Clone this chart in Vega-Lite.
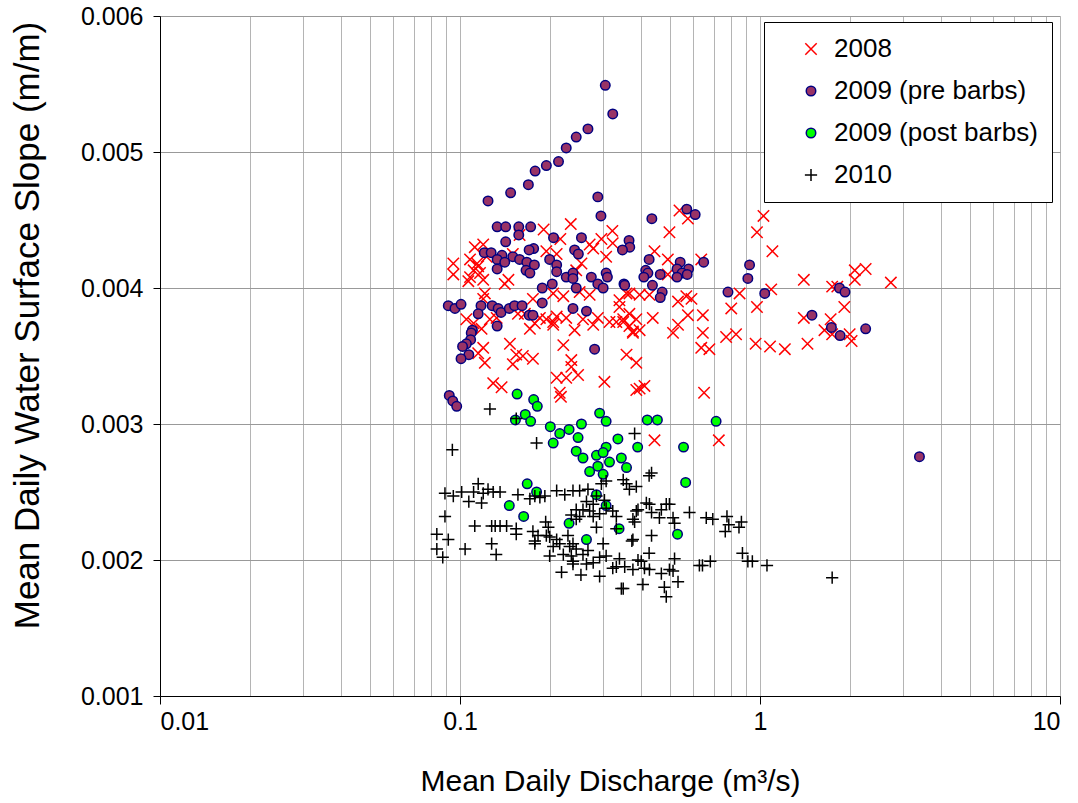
{
"$schema":"https://vega.github.io/schema/vega-lite/v6.json",
"width":900,"height":680,
"autosize":{"type":"none"},
"padding":{"left":160,"top":16,"right":18,"bottom":107},
"background":"white",
"config":{"view":{"stroke":null},"font":"Liberation Sans","axis":{"labelFont":"Liberation Sans","titleFont":"Liberation Sans","labelColor":"black","titleColor":"black","titleFontWeight":"normal"},"legend":{"labelFont":"Liberation Sans"}},
"data":{"values":[
{"series":"2008","q":0.190,"s":0.00443},{"series":"2008","q":0.234,"s":0.00447},{"series":"2008","q":0.216,"s":0.00436},{"series":"2008","q":0.158,"s":0.00439},{"series":"2008","q":0.322,"s":0.00442},{"series":"2008","q":0.296,"s":0.00436},{"series":"2008","q":0.2705,"s":0.00432},{"series":"2008","q":0.307,"s":0.00423},{"series":"2008","q":0.278,"s":0.00429},{"series":"2008","q":0.323,"s":0.00433},{"series":"2008","q":0.112,"s":0.0043},{"series":"2008","q":0.1195,"s":0.00432},{"series":"2008","q":0.108,"s":0.00421},{"series":"2008","q":0.114,"s":0.00418},{"series":"2008","q":0.095,"s":0.00418},{"series":"2008","q":0.150,"s":0.00425},{"series":"2008","q":0.194,"s":0.00427},{"series":"2008","q":0.210,"s":0.00425},{"series":"2008","q":0.254,"s":0.00418},{"series":"2008","q":0.095,"s":0.0041},{"series":"2008","q":0.115,"s":0.00416},{"series":"2008","q":0.111,"s":0.00413},{"series":"2008","q":0.1166,"s":0.00411},{"series":"2008","q":0.108,"s":0.00408},{"series":"2008","q":0.1195,"s":0.00406},{"series":"2008","q":0.1066,"s":0.00405},{"series":"2008","q":0.1227,"s":0.00423},{"series":"2008","q":0.145,"s":0.00406},{"series":"2008","q":0.141,"s":0.00403},{"series":"2008","q":0.121,"s":0.00396},{"series":"2008","q":0.1195,"s":0.00392},{"series":"2008","q":0.105,"s":0.00377},{"series":"2008","q":0.111,"s":0.00374},{"series":"2008","q":0.118,"s":0.0037},{"series":"2008","q":0.1258,"s":0.00377},{"series":"2008","q":0.1325,"s":0.00378},{"series":"2008","q":0.156,"s":0.00381},{"series":"2008","q":0.1645,"s":0.00381},{"series":"2008","q":0.171,"s":0.0037},{"series":"2008","q":0.1776,"s":0.00374},{"series":"2008","q":0.1846,"s":0.00378},{"series":"2008","q":0.194,"s":0.00377},{"series":"2008","q":0.2045,"s":0.00375},{"series":"2008","q":0.2045,"s":0.00373},{"series":"2008","q":0.21,"s":0.00379},{"series":"2008","q":0.226,"s":0.00378},{"series":"2008","q":0.241,"s":0.00369},{"series":"2008","q":0.257,"s":0.00377},{"series":"2008","q":0.278,"s":0.00373},{"series":"2008","q":0.288,"s":0.00378},{"series":"2008","q":0.315,"s":0.00375},{"series":"2008","q":0.332,"s":0.00375},{"series":"2008","q":0.35,"s":0.00375},{"series":"2008","q":0.367,"s":0.00372},{"series":"2008","q":0.377,"s":0.00368},{"series":"2008","q":0.34,"s":0.00391},{"series":"2008","q":0.367,"s":0.00396},{"series":"2008","q":0.2045,"s":0.00396},{"series":"2008","q":0.221,"s":0.00394},{"series":"2008","q":0.2505,"s":0.00397},{"series":"2008","q":0.2705,"s":0.00395},{"series":"2008","q":0.175,"s":0.00392},{"series":"2008","q":0.244,"s":0.00413},{"series":"2008","q":0.1467,"s":0.00359},{"series":"2008","q":0.154,"s":0.00351},{"series":"2008","q":0.15,"s":0.00344},{"series":"2008","q":0.175,"s":0.00348},{"series":"2008","q":0.162,"s":0.0035},{"series":"2008","q":0.1195,"s":0.00356},{"series":"2008","q":0.121,"s":0.00345},{"series":"2008","q":0.115,"s":0.00352},{"series":"2008","q":0.221,"s":0.00358},{"series":"2008","q":0.235,"s":0.00347},{"series":"2008","q":0.235,"s":0.00342},{"series":"2008","q":0.2475,"s":0.00336},{"series":"2008","q":0.226,"s":0.00334},{"series":"2008","q":0.21,"s":0.00334},{"series":"2008","q":0.215,"s":0.00323},{"series":"2008","q":0.217,"s":0.0032},{"series":"2008","q":0.129,"s":0.0033},{"series":"2008","q":0.1376,"s":0.00327},{"series":"2008","q":0.303,"s":0.00331},{"series":"2008","q":0.359,"s":0.00351},{"series":"2008","q":0.387,"s":0.00325},{"series":"2008","q":0.539,"s":0.00457},{"series":"2008","q":0.575,"s":0.00451},{"series":"2008","q":0.499,"s":0.00441},{"series":"2008","q":1.027,"s":0.00453},{"series":"2008","q":0.977,"s":0.00441},{"series":"2008","q":1.10,"s":0.00427},{"series":"2008","q":0.445,"s":0.00427},{"series":"2008","q":0.493,"s":0.00421},{"series":"2008","q":0.637,"s":0.00421},{"series":"2008","q":0.493,"s":0.0041},{"series":"2008","q":0.568,"s":0.00394},{"series":"2008","q":0.591,"s":0.00392},{"series":"2008","q":0.533,"s":0.0039},{"series":"2008","q":0.575,"s":0.0038},{"series":"2008","q":0.645,"s":0.0038},{"series":"2008","q":0.645,"s":0.00367},{"series":"2008","q":0.533,"s":0.00373},{"series":"2008","q":0.513,"s":0.00367},{"series":"2008","q":0.637,"s":0.00356},{"series":"2008","q":0.678,"s":0.00355},{"series":"2008","q":0.855,"s":0.00396},{"series":"2008","q":0.802,"s":0.00385},{"series":"2008","q":0.771,"s":0.00364},{"series":"2008","q":0.832,"s":0.00366},{"series":"2008","q":0.977,"s":0.00386},{"series":"2008","q":0.967,"s":0.00359},{"series":"2008","q":1.08,"s":0.00357},{"series":"2008","q":1.21,"s":0.00355},{"series":"2008","q":1.09,"s":0.00399},{"series":"2008","q":1.40,"s":0.00406},{"series":"2008","q":1.74,"s":0.00401},{"series":"2008","q":1.81,"s":0.00401},{"series":"2008","q":2.07,"s":0.00413},{"series":"2008","q":2.25,"s":0.00414},{"series":"2008","q":2.07,"s":0.00406},{"series":"2008","q":2.73,"s":0.00404},{"series":"2008","q":1.91,"s":0.00386},{"series":"2008","q":1.40,"s":0.00378},{"series":"2008","q":1.72,"s":0.00377},{"series":"2008","q":1.64,"s":0.00369},{"series":"2008","q":1.74,"s":0.00366},{"series":"2008","q":1.99,"s":0.00366},{"series":"2008","q":2.02,"s":0.00361},{"series":"2008","q":1.44,"s":0.00359},{"series":"2008","q":0.359,"s":0.00396},{"series":"2008","q":0.397,"s":0.00395},{"series":"2008","q":0.428,"s":0.00395},{"series":"2008","q":0.34,"s":0.00386},{"series":"2008","q":0.367,"s":0.00381},{"series":"2008","q":0.387,"s":0.00377},{"series":"2008","q":0.35,"s":0.00377},{"series":"2008","q":0.397,"s":0.00369},{"series":"2008","q":0.377,"s":0.00367},{"series":"2008","q":0.439,"s":0.00378},{"series":"2008","q":0.387,"s":0.00345},{"series":"2008","q":0.397,"s":0.00326},{"series":"2008","q":0.412,"s":0.00328},{"series":"2008","q":0.651,"s":0.00323},{"series":"2008","q":0.445,"s":0.00288},{"series":"2008","q":0.729,"s":0.00288},
{"series":"2009 (pre barbs)","q":0.305,"s":0.00549},{"series":"2009 (pre barbs)","q":0.323,"s":0.00528},{"series":"2009 (pre barbs)","q":0.267,"s":0.00517},{"series":"2009 (pre barbs)","q":0.244,"s":0.00511},{"series":"2009 (pre barbs)","q":0.226,"s":0.00503},{"series":"2009 (pre barbs)","q":0.213,"s":0.00493},{"series":"2009 (pre barbs)","q":0.194,"s":0.0049},{"series":"2009 (pre barbs)","q":0.178,"s":0.00486},{"series":"2009 (pre barbs)","q":0.169,"s":0.00476},{"series":"2009 (pre barbs)","q":0.1475,"s":0.0047},{"series":"2009 (pre barbs)","q":0.124,"s":0.00464},{"series":"2009 (pre barbs)","q":0.288,"s":0.00467},{"series":"2009 (pre barbs)","q":0.295,"s":0.00453},{"series":"2009 (pre barbs)","q":0.133,"s":0.00445},{"series":"2009 (pre barbs)","q":0.142,"s":0.00445},{"series":"2009 (pre barbs)","q":0.157,"s":0.00445},{"series":"2009 (pre barbs)","q":0.172,"s":0.00445},{"series":"2009 (pre barbs)","q":0.157,"s":0.00439},{"series":"2009 (pre barbs)","q":0.142,"s":0.00434},{"series":"2009 (pre barbs)","q":0.205,"s":0.00437},{"series":"2009 (pre barbs)","q":0.254,"s":0.00437},{"series":"2009 (pre barbs)","q":0.366,"s":0.00435},{"series":"2009 (pre barbs)","q":0.368,"s":0.0043},{"series":"2009 (pre barbs)","q":0.348,"s":0.00428},{"series":"2009 (pre barbs)","q":0.176,"s":0.00429},{"series":"2009 (pre barbs)","q":0.17,"s":0.00428},{"series":"2009 (pre barbs)","q":0.241,"s":0.00428},{"series":"2009 (pre barbs)","q":0.248,"s":0.00425},{"series":"2009 (pre barbs)","q":0.1205,"s":0.00426},{"series":"2009 (pre barbs)","q":0.127,"s":0.00426},{"series":"2009 (pre barbs)","q":0.138,"s":0.00424},{"series":"2009 (pre barbs)","q":0.15,"s":0.00423},{"series":"2009 (pre barbs)","q":0.133,"s":0.00421},{"series":"2009 (pre barbs)","q":0.141,"s":0.00419},{"series":"2009 (pre barbs)","q":0.158,"s":0.00421},{"series":"2009 (pre barbs)","q":0.167,"s":0.00419},{"series":"2009 (pre barbs)","q":0.177,"s":0.00417},{"series":"2009 (pre barbs)","q":0.199,"s":0.00421},{"series":"2009 (pre barbs)","q":0.21,"s":0.00417},{"series":"2009 (pre barbs)","q":0.133,"s":0.00414},{"series":"2009 (pre barbs)","q":0.166,"s":0.00413},{"series":"2009 (pre barbs)","q":0.171,"s":0.00411},{"series":"2009 (pre barbs)","q":0.21,"s":0.00412},{"series":"2009 (pre barbs)","q":0.226,"s":0.00408},{"series":"2009 (pre barbs)","q":0.238,"s":0.00411},{"series":"2009 (pre barbs)","q":0.238,"s":0.00407},{"series":"2009 (pre barbs)","q":0.274,"s":0.00408},{"series":"2009 (pre barbs)","q":0.307,"s":0.00411},{"series":"2009 (pre barbs)","q":0.31,"s":0.00408},{"series":"2009 (pre barbs)","q":0.288,"s":0.00403},{"series":"2009 (pre barbs)","q":0.3,"s":0.004},{"series":"2009 (pre barbs)","q":0.352,"s":0.00403},{"series":"2009 (pre barbs)","q":0.203,"s":0.00403},{"series":"2009 (pre barbs)","q":0.188,"s":0.004},{"series":"2009 (pre barbs)","q":0.244,"s":0.004},{"series":"2009 (pre barbs)","q":0.0914,"s":0.00387},{"series":"2009 (pre barbs)","q":0.0962,"s":0.00385},{"series":"2009 (pre barbs)","q":0.1008,"s":0.00388},{"series":"2009 (pre barbs)","q":0.1175,"s":0.00387},{"series":"2009 (pre barbs)","q":0.115,"s":0.00381},{"series":"2009 (pre barbs)","q":0.128,"s":0.00387},{"series":"2009 (pre barbs)","q":0.134,"s":0.00385},{"series":"2009 (pre barbs)","q":0.137,"s":0.00382},{"series":"2009 (pre barbs)","q":0.146,"s":0.00385},{"series":"2009 (pre barbs)","q":0.152,"s":0.00387},{"series":"2009 (pre barbs)","q":0.161,"s":0.00387},{"series":"2009 (pre barbs)","q":0.17,"s":0.0038},{"series":"2009 (pre barbs)","q":0.175,"s":0.0038},{"series":"2009 (pre barbs)","q":0.188,"s":0.00389},{"series":"2009 (pre barbs)","q":0.238,"s":0.00385},{"series":"2009 (pre barbs)","q":0.264,"s":0.00383},{"series":"2009 (pre barbs)","q":0.133,"s":0.00372},{"series":"2009 (pre barbs)","q":0.11,"s":0.00369},{"series":"2009 (pre barbs)","q":0.109,"s":0.00367},{"series":"2009 (pre barbs)","q":0.1085,"s":0.00362},{"series":"2009 (pre barbs)","q":0.105,"s":0.00359},{"series":"2009 (pre barbs)","q":0.102,"s":0.00357},{"series":"2009 (pre barbs)","q":0.107,"s":0.00351},{"series":"2009 (pre barbs)","q":0.1008,"s":0.00348},{"series":"2009 (pre barbs)","q":0.281,"s":0.00355},{"series":"2009 (pre barbs)","q":0.0921,"s":0.00321},{"series":"2009 (pre barbs)","q":0.0946,"s":0.00317},{"series":"2009 (pre barbs)","q":0.0975,"s":0.00313},{"series":"2009 (pre barbs)","q":0.57,"s":0.00458},{"series":"2009 (pre barbs)","q":0.608,"s":0.00454},{"series":"2009 (pre barbs)","q":0.436,"s":0.00451},{"series":"2009 (pre barbs)","q":0.427,"s":0.00421},{"series":"2009 (pre barbs)","q":0.542,"s":0.00419},{"series":"2009 (pre barbs)","q":0.578,"s":0.00414},{"series":"2009 (pre barbs)","q":0.529,"s":0.00414},{"series":"2009 (pre barbs)","q":0.55,"s":0.00411},{"series":"2009 (pre barbs)","q":0.529,"s":0.00408},{"series":"2009 (pre barbs)","q":0.572,"s":0.0041},{"series":"2009 (pre barbs)","q":0.649,"s":0.00419},{"series":"2009 (pre barbs)","q":0.416,"s":0.00413},{"series":"2009 (pre barbs)","q":0.423,"s":0.00411},{"series":"2009 (pre barbs)","q":0.41,"s":0.00408},{"series":"2009 (pre barbs)","q":0.465,"s":0.0041},{"series":"2009 (pre barbs)","q":0.354,"s":0.00402},{"series":"2009 (pre barbs)","q":0.438,"s":0.00402},{"series":"2009 (pre barbs)","q":0.472,"s":0.00397},{"series":"2009 (pre barbs)","q":0.465,"s":0.00393},{"series":"2009 (pre barbs)","q":0.923,"s":0.00417},{"series":"2009 (pre barbs)","q":0.911,"s":0.00407},{"series":"2009 (pre barbs)","q":0.782,"s":0.00397},{"series":"2009 (pre barbs)","q":1.037,"s":0.00396},{"series":"2009 (pre barbs)","q":1.84,"s":0.004},{"series":"2009 (pre barbs)","q":1.92,"s":0.00397},{"series":"2009 (pre barbs)","q":1.49,"s":0.0038},{"series":"2009 (pre barbs)","q":1.73,"s":0.00371},{"series":"2009 (pre barbs)","q":1.85,"s":0.00365},{"series":"2009 (pre barbs)","q":2.25,"s":0.0037},{"series":"2009 (pre barbs)","q":3.4,"s":0.00276},
{"series":"2009 (post barbs)","q":0.155,"s":0.00322},{"series":"2009 (post barbs)","q":0.176,"s":0.00318},{"series":"2009 (post barbs)","q":0.181,"s":0.00313},{"series":"2009 (post barbs)","q":0.165,"s":0.00307},{"series":"2009 (post barbs)","q":0.153,"s":0.00303},{"series":"2009 (post barbs)","q":0.172,"s":0.00302},{"series":"2009 (post barbs)","q":0.2,"s":0.00298},{"series":"2009 (post barbs)","q":0.215,"s":0.00293},{"series":"2009 (post barbs)","q":0.231,"s":0.00296},{"series":"2009 (post barbs)","q":0.254,"s":0.003},{"series":"2009 (post barbs)","q":0.292,"s":0.00308},{"series":"2009 (post barbs)","q":0.307,"s":0.00302},{"series":"2009 (post barbs)","q":0.2045,"s":0.00286},{"series":"2009 (post barbs)","q":0.2475,"s":0.0029},{"series":"2009 (post barbs)","q":0.307,"s":0.00283},{"series":"2009 (post barbs)","q":0.336,"s":0.00289},{"series":"2009 (post barbs)","q":0.244,"s":0.0028},{"series":"2009 (post barbs)","q":0.257,"s":0.00275},{"series":"2009 (post barbs)","q":0.285,"s":0.00277},{"series":"2009 (post barbs)","q":0.3,"s":0.00279},{"series":"2009 (post barbs)","q":0.345,"s":0.00275},{"series":"2009 (post barbs)","q":0.359,"s":0.00268},{"series":"2009 (post barbs)","q":0.315,"s":0.00272},{"series":"2009 (post barbs)","q":0.2705,"s":0.00265},{"series":"2009 (post barbs)","q":0.288,"s":0.00269},{"series":"2009 (post barbs)","q":0.3,"s":0.00263},{"series":"2009 (post barbs)","q":0.1675,"s":0.00256},{"series":"2009 (post barbs)","q":0.18,"s":0.0025},{"series":"2009 (post barbs)","q":0.146,"s":0.0024},{"series":"2009 (post barbs)","q":0.163,"s":0.00232},{"series":"2009 (post barbs)","q":0.285,"s":0.00248},{"series":"2009 (post barbs)","q":0.307,"s":0.0024},{"series":"2009 (post barbs)","q":0.231,"s":0.00227},{"series":"2009 (post barbs)","q":0.339,"s":0.00223},{"series":"2009 (post barbs)","q":0.264,"s":0.00215},{"series":"2009 (post barbs)","q":0.421,"s":0.00303},{"series":"2009 (post barbs)","q":0.455,"s":0.00303},{"series":"2009 (post barbs)","q":0.714,"s":0.00302},{"series":"2009 (post barbs)","q":0.391,"s":0.00283},{"series":"2009 (post barbs)","q":0.556,"s":0.00283},{"series":"2009 (post barbs)","q":0.565,"s":0.00257},{"series":"2009 (post barbs)","q":0.531,"s":0.00219},
{"series":"2010","q":0.0943,"s":0.00281},{"series":"2010","q":0.18,"s":0.00286},{"series":"2010","q":0.1258,"s":0.00311},{"series":"2010","q":0.154,"s":0.00304},{"series":"2010","q":0.382,"s":0.00293},{"series":"2010","q":0.0891,"s":0.00249},{"series":"2010","q":0.095,"s":0.00247},{"series":"2010","q":0.1013,"s":0.0025},{"series":"2010","q":0.111,"s":0.0025},{"series":"2010","q":0.115,"s":0.00256},{"series":"2010","q":0.1195,"s":0.00249},{"series":"2010","q":0.124,"s":0.00252},{"series":"2010","q":0.129,"s":0.0025},{"series":"2010","q":0.136,"s":0.0025},{"series":"2010","q":0.107,"s":0.00243},{"series":"2010","q":0.118,"s":0.00242},{"series":"2010","q":0.156,"s":0.00248},{"series":"2010","q":0.171,"s":0.00245},{"series":"2010","q":0.1776,"s":0.00247},{"series":"2010","q":0.1846,"s":0.00246},{"series":"2010","q":0.1918,"s":0.00247},{"series":"2010","q":0.21,"s":0.00251},{"series":"2010","q":0.2235,"s":0.00248},{"series":"2010","q":0.238,"s":0.00251},{"series":"2010","q":0.2505,"s":0.00251},{"series":"2010","q":0.267,"s":0.00252},{"series":"2010","q":0.285,"s":0.00247},{"series":"2010","q":0.296,"s":0.00256},{"series":"2010","q":0.307,"s":0.00258},{"series":"2010","q":0.35,"s":0.00259},{"series":"2010","q":0.359,"s":0.00256},{"series":"2010","q":0.367,"s":0.00252},{"series":"2010","q":0.387,"s":0.00254},{"series":"2010","q":0.264,"s":0.00243},{"series":"2010","q":0.278,"s":0.00241},{"series":"2010","q":0.303,"s":0.00244},{"series":"2010","q":0.307,"s":0.00238},{"series":"2010","q":0.244,"s":0.00237},{"series":"2010","q":0.257,"s":0.00237},{"series":"2010","q":0.2705,"s":0.00236},{"series":"2010","q":0.292,"s":0.00234},{"series":"2010","q":0.323,"s":0.00236},{"series":"2010","q":0.332,"s":0.00232},{"series":"2010","q":0.235,"s":0.00233},{"series":"2010","q":0.244,"s":0.0023},{"series":"2010","q":0.2505,"s":0.00232},{"series":"2010","q":0.278,"s":0.00232},{"series":"2010","q":0.0891,"s":0.00232},{"series":"2010","q":0.0837,"s":0.00219},{"series":"2010","q":0.0914,"s":0.00215},{"series":"2010","q":0.0837,"s":0.00208},{"series":"2010","q":0.0876,"s":0.00202},{"series":"2010","q":0.104,"s":0.00208},{"series":"2010","q":0.112,"s":0.00225},{"series":"2010","q":0.1275,"s":0.00225},{"series":"2010","q":0.131,"s":0.00225},{"series":"2010","q":0.136,"s":0.00225},{"series":"2010","q":0.143,"s":0.00225},{"series":"2010","q":0.154,"s":0.00223},{"series":"2010","q":0.154,"s":0.00219},{"series":"2010","q":0.1275,"s":0.00212},{"series":"2010","q":0.132,"s":0.00204},{"series":"2010","q":0.175,"s":0.00221},{"series":"2010","q":0.1776,"s":0.00214},{"series":"2010","q":0.182,"s":0.00218},{"series":"2010","q":0.1776,"s":0.00212},{"series":"2010","q":0.193,"s":0.00228},{"series":"2010","q":0.197,"s":0.00224},{"series":"2010","q":0.194,"s":0.00218},{"series":"2010","q":0.199,"s":0.00217},{"series":"2010","q":0.21,"s":0.00215},{"series":"2010","q":0.2045,"s":0.0021},{"series":"2010","q":0.215,"s":0.00212},{"series":"2010","q":0.229,"s":0.00218},{"series":"2010","q":0.232,"s":0.0021},{"series":"2010","q":0.238,"s":0.00212},{"series":"2010","q":0.244,"s":0.00208},{"series":"2010","q":0.235,"s":0.00203},{"series":"2010","q":0.199,"s":0.00203},{"series":"2010","q":0.221,"s":0.00204},{"series":"2010","q":0.238,"s":0.00199},{"series":"2010","q":0.257,"s":0.00204},{"series":"2010","q":0.267,"s":0.00207},{"series":"2010","q":0.278,"s":0.00198},{"series":"2010","q":0.292,"s":0.00202},{"series":"2010","q":0.307,"s":0.00203},{"series":"2010","q":0.34,"s":0.00201},{"series":"2010","q":0.332,"s":0.00195},{"series":"2010","q":0.323,"s":0.00194},{"series":"2010","q":0.354,"s":0.00195},{"series":"2010","q":0.377,"s":0.00193},{"series":"2010","q":0.218,"s":0.00191},{"series":"2010","q":0.253,"s":0.00189},{"series":"2010","q":0.292,"s":0.00188},{"series":"2010","q":0.345,"s":0.00179},{"series":"2010","q":0.238,"s":0.00197},{"series":"2010","q":0.264,"s":0.00197},{"series":"2010","q":0.3,"s":0.00212},{"series":"2010","q":0.285,"s":0.00224},{"series":"2010","q":0.332,"s":0.00223},{"series":"2010","q":0.377,"s":0.00215},{"series":"2010","q":0.387,"s":0.00236},{"series":"2010","q":0.377,"s":0.0023},{"series":"2010","q":0.435,"s":0.00264},{"series":"2010","q":0.427,"s":0.00262},{"series":"2010","q":0.418,"s":0.00242},{"series":"2010","q":0.428,"s":0.00241},{"series":"2010","q":0.487,"s":0.00241},{"series":"2010","q":0.499,"s":0.00241},{"series":"2010","q":0.392,"s":0.00237},{"series":"2010","q":0.469,"s":0.00237},{"series":"2010","q":0.513,"s":0.00231},{"series":"2010","q":0.462,"s":0.00231},{"series":"2010","q":0.519,"s":0.00227},{"series":"2010","q":0.435,"s":0.00235},{"series":"2010","q":0.382,"s":0.00228},{"series":"2010","q":0.582,"s":0.00235},{"series":"2010","q":0.662,"s":0.00231},{"series":"2010","q":0.696,"s":0.0023},{"series":"2010","q":0.776,"s":0.00232},{"series":"2010","q":0.787,"s":0.00226},{"series":"2010","q":0.766,"s":0.00221},{"series":"2010","q":0.851,"s":0.00224},{"series":"2010","q":0.867,"s":0.00228},{"series":"2010","q":0.435,"s":0.00218},{"series":"2010","q":0.374,"s":0.00214},{"series":"2010","q":0.427,"s":0.00205},{"series":"2010","q":0.392,"s":0.002},{"series":"2010","q":0.402,"s":0.00199},{"series":"2010","q":0.412,"s":0.00194},{"series":"2010","q":0.428,"s":0.00193},{"series":"2010","q":0.469,"s":0.0019},{"series":"2010","q":0.499,"s":0.00193},{"series":"2010","q":0.513,"s":0.00192},{"series":"2010","q":0.519,"s":0.00201},{"series":"2010","q":0.35,"s":0.00179},{"series":"2010","q":0.407,"s":0.00182},{"series":"2010","q":0.48,"s":0.0018},{"series":"2010","q":0.487,"s":0.00173},{"series":"2010","q":0.533,"s":0.00184},{"series":"2010","q":0.628,"s":0.00196},{"series":"2010","q":0.643,"s":0.00196},{"series":"2010","q":0.683,"s":0.00199},{"series":"2010","q":0.874,"s":0.00205},{"series":"2010","q":0.911,"s":0.00199},{"series":"2010","q":0.943,"s":0.00199},{"series":"2010","q":1.055,"s":0.00196},{"series":"2010","q":1.74,"s":0.00187}
]},
"layer":[
{"mark":{"type":"point","filled":true,"opacity":1,"strokeWidth":1.5},
 "encoding":{
  "x":{"field":"q","type":"quantitative","scale":{"type":"log","domain":[0.01,10],"nice":false},
       "axis":{"orient":"bottom","values":[0.01,0.02,0.03,0.04,0.05,0.06,0.07,0.08,0.09,0.1,0.2,0.3,0.4,0.5,0.6,0.7,0.8,0.9,1,2,3,4,5,6,7,8,9,10],"grid":true,"gridColor":"#b4b4b4","gridWidth":1,"labels":false,"ticks":false,"domain":false,"title":null}},
  "y":{"field":"s","type":"quantitative","scale":{"domain":[0.001,0.006],"nice":false,"zero":false},
       "axis":{"values":[0.001,0.002,0.003,0.004,0.005,0.006],"format":".3f","grid":true,"gridColor":"#999999","tickSize":7,"tickColor":"black","domainColor":"black","labelFontSize":25,"labelPadding":10,"title":"Mean Daily Water Surface Slope (m/m)","titleFontSize":35,"titlePadding":35,"titleY":309}},
  "shape":{"field":"series","type":"nominal","scale":{"domain":["2008","2009 (pre barbs)","2009 (post barbs)","2010"],"range":["M-1,-1L1,1M1,-1L-1,1","circle","circle","M-1,0L1,0M0,-1L0,1"]},
       "legend":{"orient":"none","legendX":604,"legendY":6,"title":null,"labelFontSize":26,"labelLimit":400,"labelColor":"black","strokeColor":"black","fillColor":"white","padding":14,"symbolOffset":20,"labelOffset":10,"rowPadding":16}},
  "fill":{"field":"series","type":"nominal","scale":{"domain":["2008","2009 (pre barbs)","2009 (post barbs)","2010"],"range":["transparent","#993366","#00ff00","transparent"]}},
  "stroke":{"field":"series","type":"nominal","scale":{"domain":["2008","2009 (pre barbs)","2009 (post barbs)","2010"],"range":["#ff0000","#000080","#000080","#000000"]}},
  "size":{"field":"series","type":"nominal","scale":{"type":"ordinal","domain":["2008","2009 (pre barbs)","2009 (post barbs)","2010"],"range":[130,90,90,150]}}
 }},
{"mark":{"type":"point","opacity":0},
 "encoding":{
  "x":{"field":"q","type":"quantitative","axis":{"orient":"bottom","values":[0.01,0.1,1,10],"format":"~g","grid":false,"tickSize":8,"tickColor":"black","domainColor":"black","labelFontSize":25,"labelPadding":5,"title":"Mean Daily Discharge (m³/s)","titleFontSize":30,"titlePadding":32}},
  "y":{"field":"s","type":"quantitative"}
 }}
],
"resolve":{"axis":{"x":"independent"}}
}
